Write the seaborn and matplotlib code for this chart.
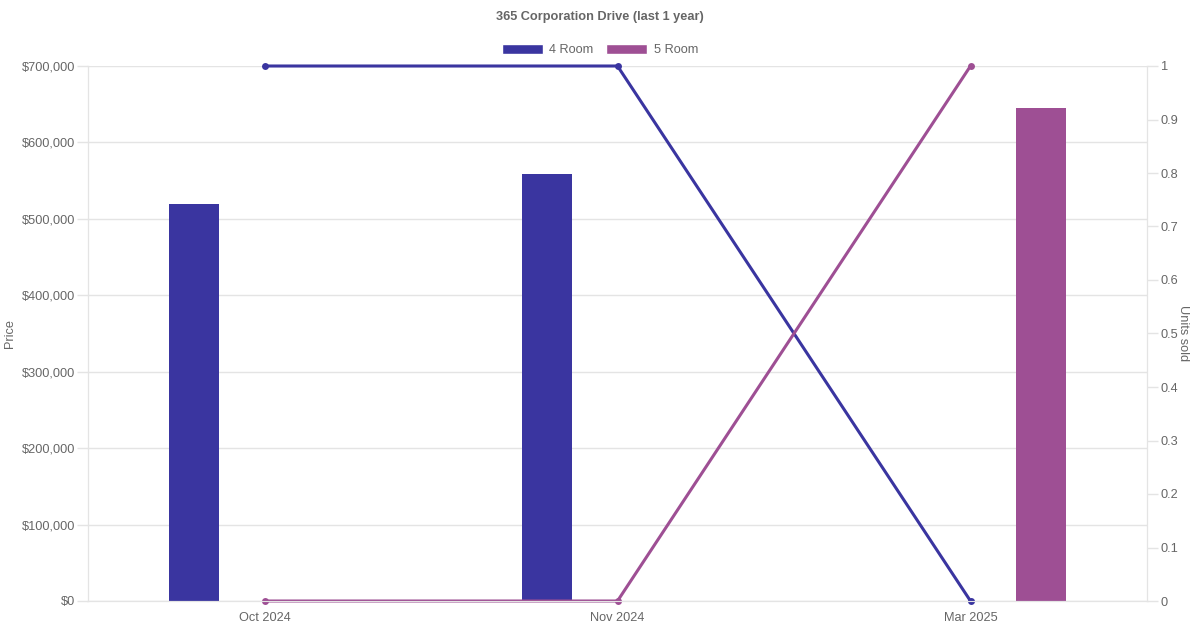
import numpy as np
import pandas as pd
import matplotlib
matplotlib.use("Agg")
import matplotlib.pyplot as plt
from matplotlib.patches import Patch
from matplotlib.ticker import FuncFormatter, MultipleLocator
import seaborn as sns

months = ["Oct 2024", "Nov 2024", "Mar 2025"]
room_types = ["4 Room", "5 Room"]
colors = ["#3a35a0", "#9e4f94"]

# bar data (median price), only months with sales
price_month = ["Oct 2024", "Nov 2024", "Mar 2025"]
price_room = ["4 Room", "4 Room", "5 Room"]
price_value = [519000, 559000, 645000]

# line data (units sold per month)
units_4room = [1, 1, 0]
units_5room = [0, 0, 1]

sns.set_style("white")
plt.rcParams["font.family"] = ["Liberation Sans", "DejaVu Sans"]
text_color = "#666666"
grid_color = "#e4e4e4"

fig = plt.figure(figsize=(12, 6.3), dpi=100)
ax = fig.add_axes([88 / 1200, 29 / 630, (1147 - 88) / 1200, (601 - 66) / 630])

df = pd.DataFrame({"month": price_month, "room": price_room, "price": price_value})
sns.barplot(data=df, x="month", y="price", hue="room", order=months,
            hue_order=room_types, palette=colors, width=0.8, dodge=True,
            saturation=1, legend=False, ax=ax)

# narrow bars to fixed thickness, keep their centres
bar_w = 50 / 353
for p in ax.patches:
    cx = p.get_x() + p.get_width() / 2
    p.set_width(bar_w)
    p.set_x(cx - bar_w / 2)
    p.set_edgecolor("none")

ax.set_xlim(-0.5, 2.5)
ax.set_ylim(0, 700000)
ax.yaxis.set_major_locator(MultipleLocator(100000))
ax.yaxis.set_major_formatter(FuncFormatter(lambda v, _: f"${v:,.0f}"))
ax.grid(axis="y", color=grid_color, linewidth=1)
ax.set_axisbelow(True)
ax.set_xlabel("")
ax.set_ylabel("Price", color=text_color, fontsize=9.2)
ax.yaxis.set_label_coords(-0.068, 0.5)
ax.tick_params(axis="y", colors=grid_color, labelcolor=text_color, labelsize=9.2,
               length=8, width=1, pad=1)
ax.tick_params(axis="x", colors=grid_color, labelcolor=text_color, labelsize=9.2,
               length=0, pad=8)
for side in ["left", "bottom", "right"]:
    ax.spines[side].set_color(grid_color)
ax.spines["top"].set_visible(False)

ax2 = ax.twinx()
x_pos = np.arange(len(months))
for vals, c in zip([units_4room, units_5room], colors):
    sns.lineplot(x=x_pos, y=vals, color=c, linewidth=2.2, marker="o",
                 markersize=5, markeredgewidth=0, ax=ax2, clip_on=False)
ax2.set_ylim(0, 1)
ax2.yaxis.set_major_locator(MultipleLocator(0.1))
ax2.yaxis.set_major_formatter(FuncFormatter(lambda v, _: f"{v:g}"))
ax2.tick_params(axis="y", colors=grid_color, labelcolor=text_color, labelsize=9.2,
                length=8, width=1, pad=2)
ax2.set_ylabel("Units sold", color=text_color, fontsize=9.2, rotation=270)
ax2.yaxis.set_label_coords(1.04, 0.5)
for side in ["left", "bottom", "right"]:
    ax2.spines[side].set_color(grid_color)
ax2.spines["top"].set_visible(False)
ax2.set_xlim(-0.5, 2.5)

fig.text(0.5, 1 - 17 / 630, "365 Corporation Drive (last 1 year)", ha="center",
         va="center", fontsize=9.2, fontweight="bold", color=text_color)

handles = [Patch(facecolor=c, label=r) for r, c in zip(room_types, colors)]
fig.legend(handles=handles, loc="center", bbox_to_anchor=(0.5, 1 - 50 / 630),
           ncol=2, frameon=False, fontsize=9.2, handlelength=3.2, handleheight=0.9,
           columnspacing=1.0, handletextpad=0.5, labelcolor=text_color)

fig.savefig("out.png", dpi=100)
